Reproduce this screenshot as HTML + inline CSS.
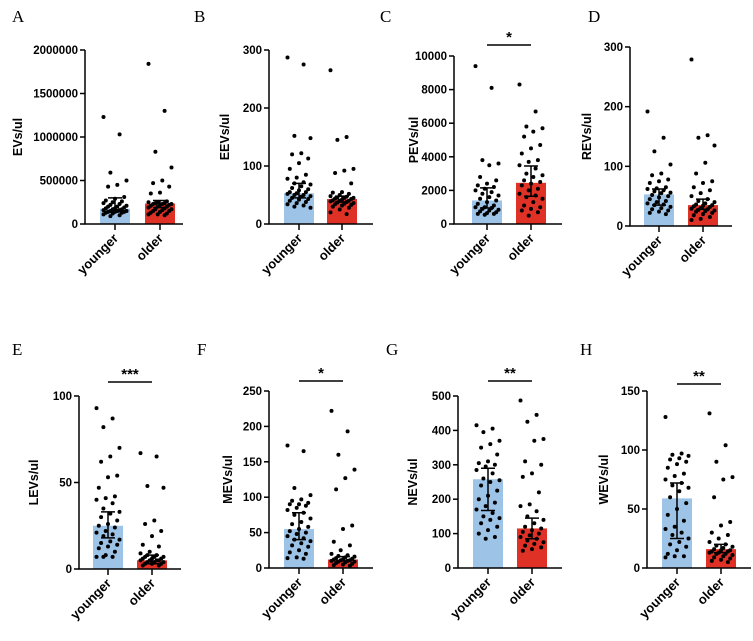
<!DOCTYPE html>
<html><head><meta charset="utf-8"><style>
html,body{margin:0;padding:0;background:#fff;}
svg{display:block;font-family:"Liberation Sans",Arial,sans-serif;}
</style></head><body>
<svg id="fig" width="753" height="641" viewBox="0 0 753 641"></svg>
<script>
// ---- data ----
const groups = ["younger","older"];
const panelLetters = ["A","B","C","D","E","F","G","H"];
const yTitles = ["EVs/ul","EEVs/ul","PEVs/ul","REVs/ul","LEVs/ul","MEVs/ul","NEVs/ul","WEVs/ul"];
const yMax = [2000000,300,10000,300,100,250,500,150];
const yTicks = [[0,500000,1000000,1500000,2000000],[0,100,200,300],[0,2000,4000,6000,8000,10000],[0,100,200,300],[0,50,100],[0,50,100,150,200,250],[0,100,200,300,400,500],[0,50,100,150]];
const sigLabels = ["","","*","","***","*","**","**"];
const barMeans = [[175000,235000],[53,43],[1400,2450],[53,35],[25,5],[55,12],[258,115],[59,16]];
const errLow = [[140000,190000],[45,38],[950,1650],[35,28],[18,3],[40,10],[167,85],[25,13]];
const errHigh = [[300000,270000],[70,48],[2150,3450],[62,45],[33,8],[78,16],[290,145],[72,20]];
const dotsYounger = [
 [1230000,1030000,590000,500000,450000,430000,310000,290000,270000,260000,250000,240000,230000,220000,210000,200000,200000,190000,180000,180000,170000,170000,160000,160000,150000,150000,150000,140000,140000,140000,130000,130000,120000,110000,100000,90000],
 [287,275,152,148,122,120,113,105,95,85,80,78,72,70,68,65,62,60,58,55,55,53,52,50,50,48,47,45,43,42,40,38,36,34,32,30,28],
 [9400,8100,3800,3600,3500,2800,2600,2400,2300,2200,2100,2000,1900,1800,1700,1600,1500,1400,1300,1200,1100,1000,1000,950,900,850,800,750,700,650,600,600,550],
 [192,148,125,103,88,85,78,75,72,65,63,62,60,58,56,55,52,50,48,45,42,40,38,36,35,32,30,28,26,24,22,20],
 [93,87,82,70,65,62,54,53,47,42,41,40,38,35,33,32,30,28,26,25,24,22,21,20,19,17,16,15,14,13,12,10,8,7,7,7],
 [173,165,113,103,97,95,92,90,90,88,85,82,78,75,70,65,62,58,55,52,50,48,45,42,40,38,35,32,30,25,22,20,15,14,13],
 [415,405,395,370,360,350,330,310,305,300,295,285,275,260,255,250,240,225,210,200,190,180,170,160,150,145,140,130,120,110,100,90,85],
 [128,97,96,95,93,92,90,88,85,80,78,75,72,70,68,65,60,55,50,45,40,35,33,30,28,25,22,20,18,15,12,10,10,9]
];
const dotsOlder = [
 [1840000,1300000,830000,650000,500000,470000,430000,360000,350000,260000,250000,250000,240000,240000,230000,230000,230000,220000,220000,210000,200000,200000,190000,180000,170000,170000,160000,150000,150000,140000,130000,120000,110000,110000,100000],
 [265,150,145,95,92,88,70,55,54,52,50,48,47,46,45,45,44,43,42,41,40,40,39,38,37,36,35,34,33,32,30,28,25,20,17],
 [8300,6700,5800,5700,5500,5200,4700,4500,4200,3800,3700,3500,3300,3000,2900,2800,2600,2500,2400,2300,2100,2000,1800,1700,1600,1500,1300,1100,1000,900,800,700,500],
 [279,152,148,135,106,88,75,72,65,60,55,50,45,42,40,38,36,35,34,33,32,30,29,28,27,26,25,24,22,20,18,15,12,10],
 [67,65,48,47,28,26,22,19,14,13,10,9,8,8,7,7,7,6,6,6,5,5,5,5,4,4,4,3,3,3,2,2],
 [222,193,160,139,127,111,60,55,37,32,25,20,18,17,16,15,14,13,12,12,11,11,10,10,9,9,8,7,6,5,4,3],
 [487,445,425,375,370,310,300,275,265,220,185,180,165,150,140,130,120,115,110,105,100,95,90,85,80,75,70,65,60,55,50],
 [131,104,90,77,75,60,39,36,30,28,25,22,20,19,18,17,16,15,15,14,14,13,13,12,12,11,10,9,8,7,6,5]
];
// ---- layout (pixels) ----
const L = [
 {ax:85,top:50,bot:224,end:183,b1:100,b2:145,lx:12,ly:22,tx:18,sy:0},
 {ax:269,top:50,bot:224,end:373,b1:284,b2:327,lx:194,ly:22,tx:225,sy:0},
 {ax:454,top:56,bot:224,end:562,b1:472,b2:516,lx:380,ly:22,tx:414,sy:45},
 {ax:630,top:47,bot:226,end:732,b1:644,b2:688,lx:588,ly:22,tx:587,sy:0},
 {ax:79,top:396,bot:569,end:181,b1:93,b2:137,lx:12,ly:355,tx:34,sy:382},
 {ax:269,top:391,bot:568,end:373,b1:284,b2:328,lx:197,ly:355,tx:228,sy:381},
 {ax:458,top:396,bot:568,end:562,b1:473,b2:517,lx:386,ly:355,tx:413,sy:381},
 {ax:647,top:391,bot:568,end:751,b1:662,b2:706,lx:580,ly:355,tx:604,sy:384}
];
const BW = 30;
const NS = "http://www.w3.org/2000/svg";
const svg = document.getElementById("fig");
function mk(tag, attrs, parent, text){
  const e = document.createElementNS(NS, tag);
  for (const k in attrs) e.setAttribute(k, attrs[k]);
  if (text !== undefined) e.textContent = text;
  (parent||svg).appendChild(e);
  return e;
}
for (let p = 0; p < 8; p++) {
  const g = mk("g", {});
  
  
  const c = L[p];
  const yS = v => c.bot - (v / yMax[p]) * (c.bot - c.top);
  const lt = mk("text", {x:c.lx, y:c.ly, "font-family":"Liberation Serif,serif", "font-size":17}, g, panelLetters[p]);
  
  
  const xs = [c.b1 + BW/2, c.b2 + BW/2];
  const colors = ["#9dc3e6", "#e03127"];
  const dsets = [dotsYounger[p], dotsOlder[p]];
  for (let k = 0; k < 2; k++) {
    const b = mk("rect", {x:xs[k]-BW/2, y:yS(barMeans[p][k]), width:BW, height:c.bot - yS(barMeans[p][k]), fill:colors[k]}, g);
    
    
  }
  for (let k = 0; k < 2; k++) {
    dsets[k].forEach((v, i) => {
      const off = (((i * 7) % 11) - 5) * 2.3;
      const d = mk("circle", {cx:xs[k] + off, cy:yS(v), r:2, fill:"#000"}, g);
      
      
    });
    const eb = mk("path", {d:`M${xs[k]},${yS(errLow[p][k])}V${yS(errHigh[p][k])}M${xs[k]-7},${yS(errLow[p][k])}H${xs[k]+7}M${xs[k]-7},${yS(errHigh[p][k])}H${xs[k]+7}`, stroke:"#000", "stroke-width":1.5, fill:"none"}, g);
    
    
  }
  const ax = mk("path", {d:`M${c.ax},${c.top}V${c.bot}H${c.end}`, stroke:"#000", "stroke-width":1.5, fill:"none"}, g);
  
  
  yTicks[p].forEach(t => {
    mk("line", {x1:c.ax-5, x2:c.ax, y1:yS(t), y2:yS(t), stroke:"#000", "stroke-width":1.5}, g);
    const tl = mk("text", {x:c.ax-7, y:yS(t)+4, "text-anchor":"end", "font-size":11.5, "font-weight":"bold"}, g, String(t));
    
    
  });
  xs.forEach((x, k) => {
    mk("line", {x1:x, x2:x, y1:c.bot, y2:c.bot+6, stroke:"#000", "stroke-width":1.5}, g);
    const xl = mk("text", {x:x+4, y:c.bot+15, "text-anchor":"end", "font-size":13, "font-weight":"bold", transform:`rotate(-45 ${x+4} ${c.bot+15})`}, g, groups[k]);
    
    
  });
  const cy = (c.top + c.bot) / 2;
  const yt = mk("text", {x:c.tx+4, y:cy, "text-anchor":"middle", "font-size":12.5, "font-weight":"bold", transform:`rotate(-90 ${c.tx+4} ${cy})`}, g, yTitles[p]);
  
  
  if (sigLabels[p]) {
    const sl = mk("line", {x1:xs[0], x2:xs[1], y1:c.sy, y2:c.sy, stroke:"#000", "stroke-width":1.5}, g);
    
    
    const st = mk("text", {x:(xs[0]+xs[1])/2, y:c.sy-3, "text-anchor":"middle", "font-size":15, "font-weight":"bold"}, g, sigLabels[p]);
    
    
  }
}
</script>
</body></html>
